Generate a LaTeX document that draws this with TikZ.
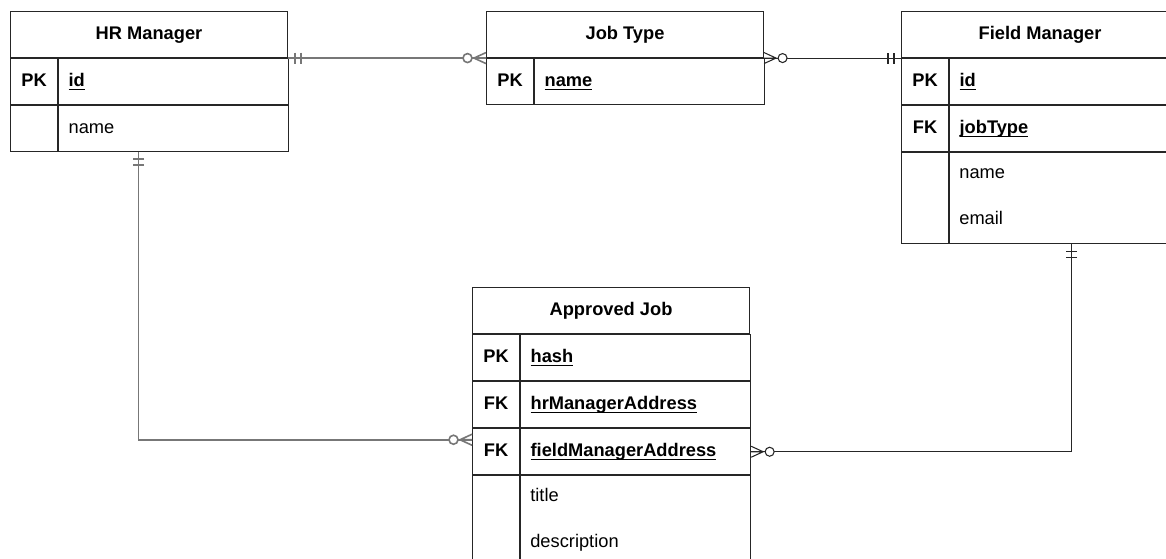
\documentclass[tikz,border=0pt]{standalone}
\usepackage{fontspec}
\setmainfont{Liberation Sans}
\usetikzlibrary{positioning}
\definecolor{lnblack}{HTML}{262626}
\definecolor{lngray}{HTML}{777777}

% text size of the diagram
\newcommand{\erfont}{\fontsize{13.7pt}{16.5pt}\selectfont}
% underlined key field
\newcommand{\ukey}[1]{\setbox0\hbox{#1}\rlap{\rule[-2.9pt]{\wd0}{1.1pt}}\box0}

\tikzset{
  cellbox/.style={draw=lnblack, line width=0.8pt, minimum height=34.5pt, text height=10pt, text depth=3pt, font=\erfont},
  tblhead/.style={cellbox, minimum width=207.75pt, inner sep=0pt, font=\erfont\bfseries},
  keycell/.style={cellbox, minimum width=35.25pt, inner sep=0pt, font=\erfont\bfseries},
  valcell/.style={cellbox, minimum width=172.5pt, text width=157.5pt, inner xsep=7.5pt, inner ysep=0pt, align=left},
  keyval/.style={valcell, font=\erfont\bfseries},
  tallcell/.style={minimum height=68.25pt},
  plaintext/.style={anchor=west, inner sep=0pt, text height=10pt, text depth=3pt, font=\erfont},
  relgray/.style={lngray, line width=1.2pt},
  relblack/.style={lnblack, line width=0.8pt},
  onebar/.pic={\draw (7,-5.5) -- (7,5.5) (13,-5.5) -- (13,5.5);},
  zeromany/.pic={
    \draw (0,-5.5) -- (12,0) -- (0,5.5) (0,0) -- (12,0);
    \draw[fill=white] (18.5,0) circle[radius=4.5];
  }
}

\begin{document}
\begin{tikzpicture}[x=0.75pt, y=-0.75pt]
\useasboundingbox (0,0) rectangle (1166,558);
\clip (0,0) rectangle (1166,558);

%%% HR Manager
\node[tblhead, anchor=north west] (hrhead) at (10,11) {HR Manager};
\node[keycell, below right=0pt and 0pt of hrhead.south west] (hrpk) {PK};
\node[keyval, right=0pt of hrpk] (hrid) {\ukey{id}};
\node[keycell, below=0pt of hrpk] (hrblank) {};
\node[valcell, right=0pt of hrblank] (hrname) {name};

%%% Job Type
\node[tblhead, anchor=north west] (jthead) at (486,11) {Job Type};
\node[keycell, below right=0pt and 0pt of jthead.south west] (jtpk) {PK};
\node[keyval, right=0pt of jtpk] (jtname) {\ukey{name}};

%%% Field Manager
\node[tblhead, anchor=north west] (fmhead) at (901,11) {Field Manager};
\node[keycell, below right=0pt and 0pt of fmhead.south west] (fmpk) {PK};
\node[keyval, right=0pt of fmpk] (fmid) {\ukey{id}};
\node[keycell, below=0pt of fmpk] (fmfk) {FK};
\node[keyval, right=0pt of fmfk] (fmjob) {\ukey{jobType}};
\node[keycell, tallcell, below=0pt of fmfk] (fmblank) {};
\node[valcell, tallcell, right=0pt of fmblank] (fmrest) {};
\node[plaintext] (fmname) at ([xshift=7.5pt, yshift=-16.5pt]fmrest.north west) {name};
\node[plaintext] (fmemail) at ([xshift=7.5pt, yshift=-51pt]fmrest.north west) {email};

%%% Approved Job
\node[tblhead, anchor=north west] (ajhead) at (472,287) {Approved Job};
\node[keycell, below right=0pt and 0pt of ajhead.south west] (ajpk) {PK};
\node[keyval, right=0pt of ajpk] (ajhash) {\ukey{hash}};
\node[keycell, below=0pt of ajpk] (ajhrkey) {FK};
\node[keyval, right=0pt of ajhrkey] (ajhrval) {\ukey{hrManagerAddress}};
\node[keycell, below=0pt of ajhrkey] (ajfmkey) {FK};
\node[keyval, right=0pt of ajfmkey] (ajfmval) {\ukey{fieldManagerAddress}};
\node[keycell, tallcell, below=0pt of ajfmkey] (ajblank) {};
\node[valcell, tallcell, right=0pt of ajblank] (ajrest) {};
\node[plaintext] (ajtitle) at ([xshift=7.5pt, yshift=-16pt]ajrest.north west) {title};
\node[plaintext] (ajdesc) at ([xshift=7.5pt, yshift=-51pt]ajrest.north west) {description};

%%% Relationships
% HR Manager -- Job Type
\draw[relgray] (hrhead.south east) -- (jthead.south west);
\pic[relgray] at (hrhead.south east) {onebar};
\pic[relgray, rotate=180] at (jthead.south west) {zeromany};

% Job Type -- Field Manager
\draw[relblack] (jthead.south east) -- (fmhead.south west);
\pic[relblack] at (jthead.south east) {zeromany};
\pic[relblack, rotate=180] at (fmhead.south west) {onebar};

% HR Manager -- Approved Job
\coordinate (hrdrop) at ([xshift=-26.25pt]hrname.south);
\coordinate (ajhrin) at ([yshift=9pt]ajfmkey.west);
\draw[relgray] (hrdrop) |- (ajhrin);
\pic[relgray, rotate=-90] at (hrdrop) {onebar};
\pic[relgray, rotate=180] at (ajhrin) {zeromany};

% Field Manager -- Approved Job
\coordinate (fmdrop) at ([xshift=5.25pt]fmrest.south);
\draw[relblack] (fmdrop) |- (ajfmval.east);
\pic[relblack, rotate=-90] at (fmdrop) {onebar};
\pic[relblack] at (ajfmval.east) {zeromany};

\end{tikzpicture}
\end{document}
